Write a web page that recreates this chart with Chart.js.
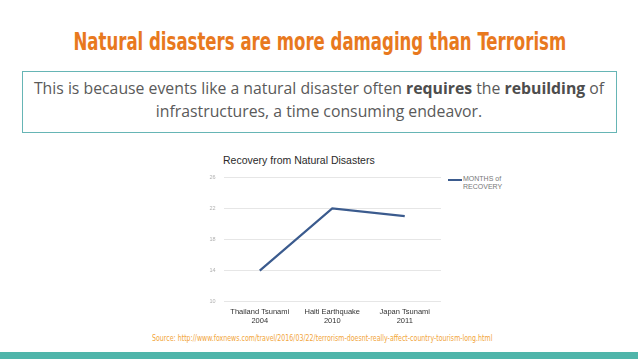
<!DOCTYPE html>
<html>
<head>
<meta charset="utf-8">
<script src="https://cdn.jsdelivr.net/npm/chart.js@4/dist/chart.umd.min.js"></script>
<style>
  html,body{margin:0;padding:0;background:#fff;}
  body{width:638px;height:359px;position:relative;overflow:hidden;font-family:"Open Sans",sans-serif;}
  .fit{position:absolute;white-space:nowrap;transform-origin:center center;}
  #hs{top:27px;font-family:"Liberation Sans Narrow","DejaVu Sans Condensed",sans-serif;font-weight:bold;font-size:24.5px;color:#e8791e;}
  #box{position:absolute;left:21.5px;top:70.5px;width:593px;height:60px;border:1px solid #66b5b5;}
  #box p{margin:0;padding-top:5.5px;text-align:center;font-size:15.8px;line-height:22.5px;color:#5a5a5a;white-space:nowrap;}
  #box b{color:#4d4d4d;}
  #ctitle{position:absolute;left:223px;top:154px;font-family:"Liberation Sans",Arial,sans-serif;font-size:10.5px;color:#2a2a2a;}
  #legend{position:absolute;left:448px;top:175px;font-family:"Liberation Sans",Arial,sans-serif;font-size:7px;line-height:8px;color:#777;}
  #legend i{position:absolute;left:0;top:3.5px;width:14px;height:2px;background:#3b5b8e;}
  #legend div{margin-left:15px;}
  #ss{top:333px;font-family:"Liberation Sans Narrow","DejaVu Sans Condensed",sans-serif;font-size:8.5px;color:#f2a53a;}
  #bar{position:absolute;left:0;top:352px;width:638px;height:7px;background:#4fb5aa;}
  #wrap{position:absolute;left:195px;top:166px;width:300px;height:160px;}
</style>
</head>
<body>
<div id="hs" class="fit">Natural disasters are more damaging than Terrorism</div>
<div id="box"><p>This is because events like a natural disaster often <b>requires</b> the <b>rebuilding</b> of<br>infrastructures, a time consuming endeavor.</p></div>
<div id="ctitle">Recovery from Natural Disasters</div>
<div id="legend"><i></i><div>MONTHS of<br>RECOVERY</div></div>
<div id="wrap"><canvas id="c" width="300" height="160"></canvas></div>
<div id="ss" class="fit">Source: http://www.foxnews.com/travel/2016/03/22/terrorism-doesnt-really-affect-country-tourism-long.html</div>
<div id="bar"></div>
<script>
const categories = [["Thailand Tsunami","2004"],["Haiti Earthquake","2010"],["Japan Tsunami","2011"]];
const seriesName = "MONTHS of RECOVERY";
const monthsOfRecovery = [14, 22, 21];
const yTicks = [10, 14, 18, 22, 26];

function fit(id, left, right){
  const el=document.getElementById(id);
  const w=el.offsetWidth;
  const target=right-left;
  el.style.left=((left+right)/2 - w/2)+'px';
  el.style.transform='scaleX('+(target/w)+')';
}
fit('hs',73,566);
fit('ss',152,492);

new Chart(document.getElementById('c'), {
  type: 'line',
  data: {
    labels: categories,
    datasets: [{
      label: seriesName,
      data: monthsOfRecovery,
      borderColor: '#3b5b8e',
      borderWidth: 2.2,
      pointRadius: 0,
      tension: 0,
      fill: false
    }]
  },
  options: {
    responsive: false,
    animation: false,
    devicePixelRatio: 1,
    layout: {padding: {top: 10.7, right: 54, left: 0, bottom: 0}},
    plugins: {legend: {display: false}, title: {display: false}, tooltip: {enabled: false}},
    scales: {
      x: {
        offset: true,
        grid: {display: false, drawTicks: false},
        border: {display: false},
        ticks: {color: '#333', font: {family: 'Liberation Sans, Arial', size: 7.5}, padding: 6, maxRotation: 0},
        afterFit: s => { s.height = 24.3; }
      },
      y: {
        min: 10, max: 26,
        afterBuildTicks: s => { s.ticks = yTicks.map(v => ({value: v})); },
        grid: {color: '#e6e6e6', drawTicks: false, lineWidth: 1},
        border: {display: false},
        ticks: {color: '#b0b0b0', font: {family: 'Liberation Sans, Arial', size: 5.5}, padding: 8},
        afterFit: s => { s.width = 28.5; }
      }
    }
  }
});
</script>
</body>
</html>
